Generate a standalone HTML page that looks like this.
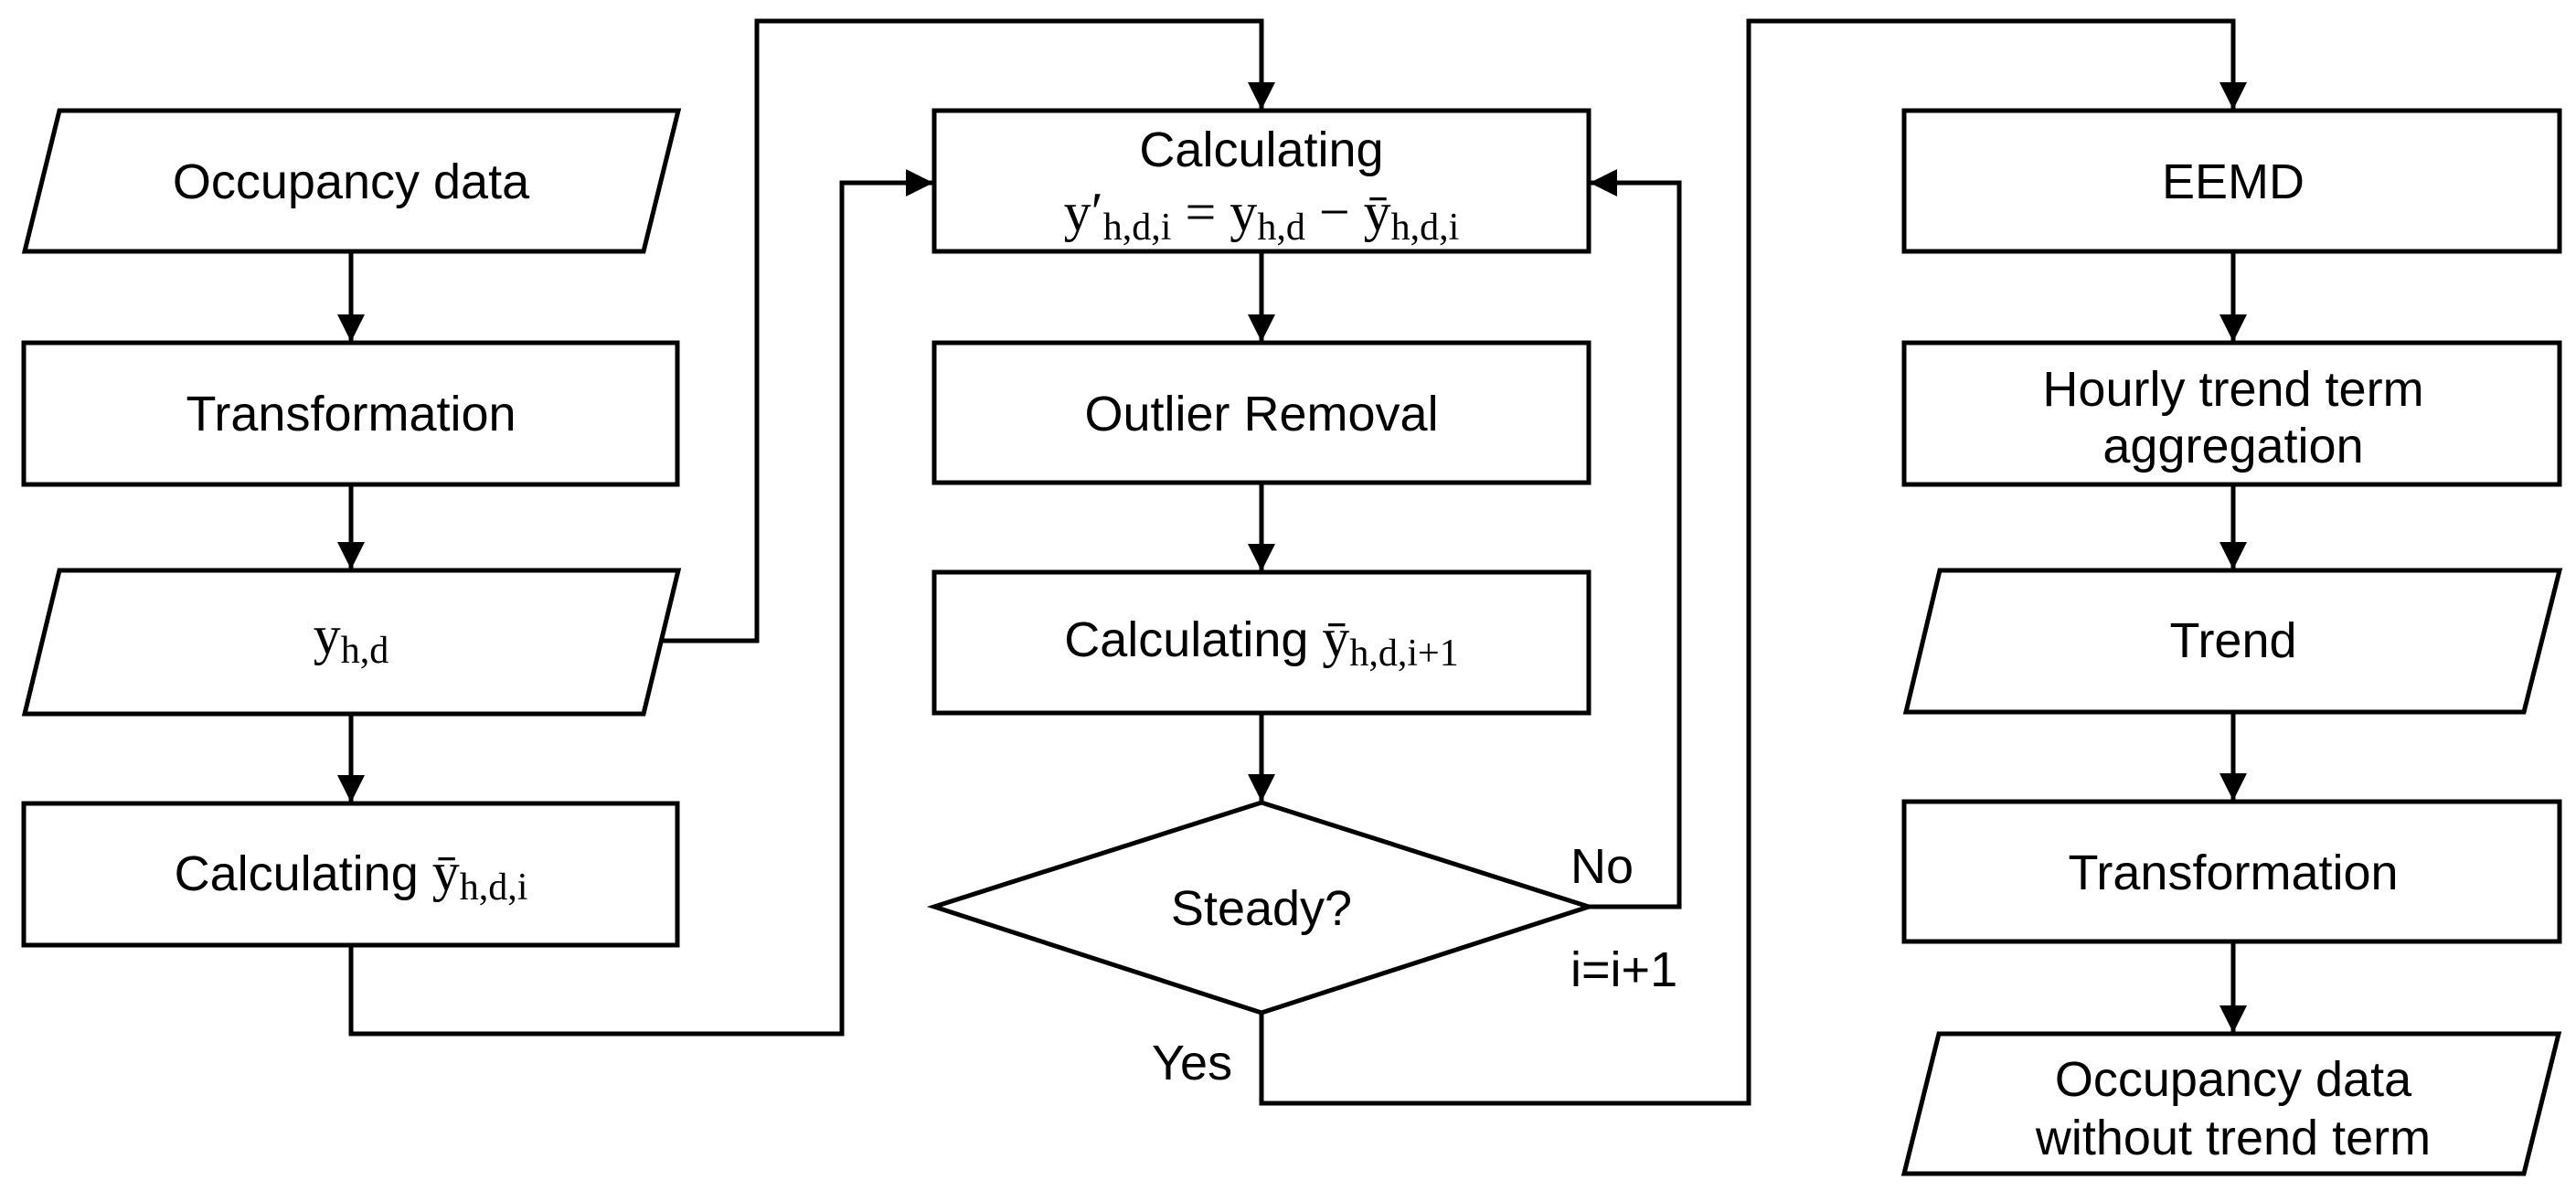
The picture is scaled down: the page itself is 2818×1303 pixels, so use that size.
<!DOCTYPE html>
<html><head><meta charset="utf-8"><style>
html,body{margin:0;padding:0;background:#fff;}
svg{display:block;}
.t{font-family:"Liberation Sans",sans-serif;font-size:54px;fill:#000;}
.m{font-family:"Liberation Serif",serif;fill:#000;}
</style></head><body>
<svg width="2818" height="1303" viewBox="0 0 2818 1303" xmlns="http://www.w3.org/2000/svg">
<defs>
<marker id="a" markerWidth="32" markerHeight="30" refX="29" refY="15" orient="auto" markerUnits="userSpaceOnUse">
<path d="M0,0 L30,15 L0,30 Z" fill="#000"/>
</marker>
</defs>
<g fill="none" stroke="#000" stroke-width="5">
<polygon points="65,121 742,121 704,275 27,275" fill="#fff"/>
<rect x="26" y="375" width="715" height="155" fill="#fff"/>
<polygon points="65,624 742,624 704,781 27,781" fill="#fff"/>
<rect x="26" y="879" width="715" height="155" fill="#fff"/>
<line x1="384" y1="275" x2="384" y2="373" marker-end="url(#a)"/>
<line x1="384" y1="530" x2="384" y2="622" marker-end="url(#a)"/>
<line x1="384" y1="781" x2="384" y2="877" marker-end="url(#a)"/>
<polyline points="724,701 828,701 828,23 1380,23 1380,119" marker-end="url(#a)"/>
<polyline points="384,1034 384,1131 921,1131 921,200 1020,200" marker-end="url(#a)"/>
<rect x="1022" y="121" width="716" height="154" fill="#fff"/>
<rect x="1022" y="375" width="716" height="153" fill="#fff"/>
<rect x="1022" y="626" width="716" height="154" fill="#fff"/>
<polygon points="1380,878 1738,992 1380,1108 1022,992" fill="#fff"/>
<line x1="1380" y1="275" x2="1380" y2="373" marker-end="url(#a)"/>
<line x1="1380" y1="528" x2="1380" y2="624" marker-end="url(#a)"/>
<line x1="1380" y1="780" x2="1380" y2="876" marker-end="url(#a)"/>
<polyline points="1738,992 1837,992 1837,200 1740,200" marker-end="url(#a)"/>
<polyline points="1380,1108 1380,1207 1913,1207 1913,23 2443,23 2443,119" marker-end="url(#a)"/>
<rect x="2083" y="121" width="717" height="154" fill="#fff"/>
<rect x="2083" y="375" width="717" height="155" fill="#fff"/>
<polygon points="2122,624 2800,624 2761,779 2085,779" fill="#fff"/>
<rect x="2083" y="877" width="717" height="153" fill="#fff"/>
<polygon points="2121,1131 2799,1131 2761,1284 2083,1284" fill="#fff"/>
<line x1="2443" y1="275" x2="2443" y2="373" marker-end="url(#a)"/>
<line x1="2443" y1="530" x2="2443" y2="622" marker-end="url(#a)"/>
<line x1="2443" y1="779" x2="2443" y2="875" marker-end="url(#a)"/>
<line x1="2443" y1="1030" x2="2443" y2="1129" marker-end="url(#a)"/>
</g>
<text class="t" x="384" y="217" text-anchor="middle">Occupancy data</text>
<text class="t" x="384" y="471" text-anchor="middle">Transformation</text>
<text x="384" y="715" text-anchor="middle"><tspan class="m" font-size="60">y</tspan><tspan class="m" font-size="42" dy="10">h,d</tspan></text>
<text x="384" y="974" text-anchor="middle"><tspan class="t">Calculating </tspan><tspan class="m" font-size="60">ȳ</tspan><tspan class="m" font-size="42" dy="10">h,d,i</tspan></text>

<text class="t" x="1380" y="182" text-anchor="middle">Calculating</text>
<text x="1380" y="252" text-anchor="middle"><tspan class="m" font-size="60">y′</tspan><tspan class="m" font-size="42" dy="10">h,d,i</tspan><tspan class="m" font-size="60" dy="-10"> = y</tspan><tspan class="m" font-size="42" dy="10">h,d</tspan><tspan class="m" font-size="60" dy="-10"> − ȳ</tspan><tspan class="m" font-size="42" dy="10">h,d,i</tspan></text>
<text class="t" x="1380" y="471" text-anchor="middle">Outlier Removal</text>
<text x="1380" y="718" text-anchor="middle"><tspan class="t">Calculating </tspan><tspan class="m" font-size="60">ȳ</tspan><tspan class="m" font-size="42" dy="10">h,d,i+1</tspan></text>
<text class="t" x="1380" y="1012" text-anchor="middle">Steady?</text>
<text class="t" x="1718" y="966">No</text>
<text class="t" x="1718" y="1079">i=i+1</text>
<text class="t" x="1260" y="1181">Yes</text>

<text class="t" x="2443" y="217" text-anchor="middle">EEMD</text>
<text class="t" x="2443" y="444" text-anchor="middle">Hourly trend term</text>
<text class="t" x="2443" y="506" text-anchor="middle">aggregation</text>
<text class="t" x="2443" y="719" text-anchor="middle">Trend</text>
<text class="t" x="2443" y="973" text-anchor="middle">Transformation</text>
<text class="t" x="2443" y="1199" text-anchor="middle">Occupancy data</text>
<text class="t" x="2443" y="1263" text-anchor="middle">without trend term</text>
</svg>
</body></html>
